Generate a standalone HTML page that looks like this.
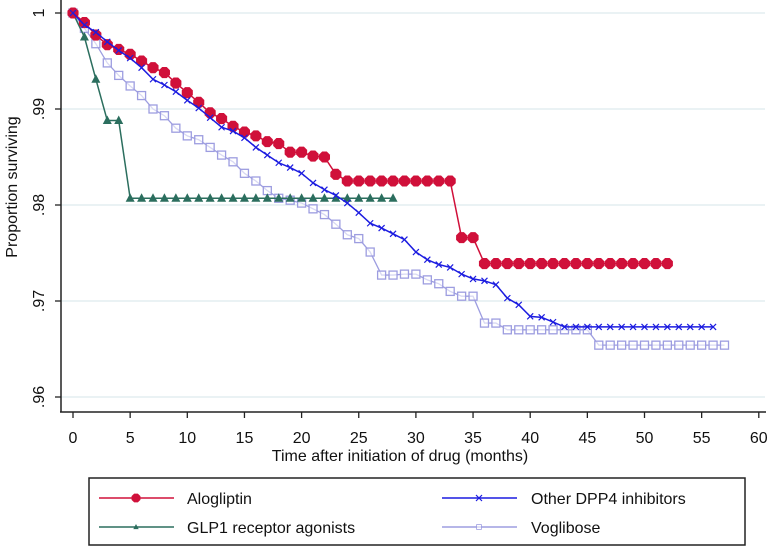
<!DOCTYPE html>
<html><head><meta charset="utf-8"><style>
body{margin:0;background:#fff;}
svg text{font-family:"Liberation Sans",sans-serif;fill:#111;}
</style></head><body>
<svg id="chart" width="776" height="547" xmlns="http://www.w3.org/2000/svg">
<g id="grid"></g><g id="axes"></g><g id="series"></g><g id="legend"></g>
</svg>
<script>
const xTicks=[0,5,10,15,20,25,30,35,40,45,50,55,60];
const yTicks=[1,0.99,0.98,0.97,0.96];
const yTickLabels=["1",".99",".98",".97",".96"];
const alogliptin=[1,.9990,.9977,.9967,.9962,.9957,.9950,.9943,.9938,.9927,.9917,.9907,.9896,.9890,.9882,.9876,.9872,.9866,.9864,.9855,.9855,.9851,.9850,.9832,.9825,.9825,.9825,.9825,.9825,.9825,.9825,.9825,.9825,.9825,.9766,.9766,.9739,.9739,.9739,.9739,.9739,.9739,.9739,.9739,.9739,.9739,.9739,.9739,.9739,.9739,.9739,.9739,.9739];
const glp1=[1,.9975,.9931,.9888,.9888,.9807,.9807,.9807,.9807,.9807,.9807,.9807,.9807,.9807,.9807,.9807,.9807,.9807,.9807,.9807,.9807,.9807,.9807,.9807,.9807,.9807,.9807,.9807,.9807];
const dpp4=[1,.99875,.9980,.9970,.9961,.9953,.9943,.9931,.9925,.9918,.9909,.9901,.9891,.9881,.9877,.9870,.9860,.9852,.9844,.9839,.9833,.9823,.9816,.9810,.9802,.9792,.9781,.9776,.9770,.9764,.9751,.9743,.9738,.9735,.9728,.9723,.9721,.9717,.9703,.9696,.9684,.9683,.9678,.9673,.9673,.9673,.9673,.9673,.9673,.9673,.9673,.9673,.9673,.9673,.9673,.9673,.9673];
const voglibose=[1,.9984,.9968,.9948,.9935,.9924,.9914,.9900,.9893,.9880,.9872,.9868,.9860,.9852,.9845,.9833,.9825,.9815,.9807,.9805,.9802,.9796,.9790,.9780,.9769,.9765,.9751,.9727,.9727,.9728,.9728,.9722,.9718,.9710,.9705,.9705,.9677,.9677,.9670,.9670,.9670,.9670,.9670,.9670,.9670,.9670,.9654,.9654,.9654,.9654,.9654,.9654,.9654,.9654,.9654,.9654,.9654,.9654];

const NS="http://www.w3.org/2000/svg";
const X=m=>73+m*11.43;
const Y=v=>13+(1-v)*9600;
function mk(tag,attrs,parent){const e=document.createElementNS(NS,tag);for(const k in attrs)e.setAttribute(k,attrs[k]);parent.appendChild(e);return e;}
const grid=document.getElementById('grid'),axes=document.getElementById('axes'),series=document.getElementById('series'),legend=document.getElementById('legend');

yTicks.forEach((v,i)=>{
 const g=mk('line',{x1:61,x2:765,y1:Y(v),y2:Y(v),stroke:'#e3edf0','stroke-width':1.5},grid);
 
 
 mk('line',{x1:55,x2:61,y1:Y(v),y2:Y(v),stroke:'#222','stroke-width':1.3},axes);
 const t=mk('text',{x:0,y:0,'font-size':16,'text-anchor':'middle',transform:`translate(44,${Y(v)}) rotate(-90)`},axes);
 t.textContent=yTickLabels[i];
 
 
});
xTicks.forEach(m=>{
 mk('line',{x1:X(m),x2:X(m),y1:412,y2:418,stroke:'#222','stroke-width':1.3},axes);
 const t=mk('text',{x:X(m),y:443,'font-size':16,'text-anchor':'middle'},axes);
 t.textContent=m;
 
 
});
const ya=mk('line',{x1:61,x2:61,y1:0,y2:412,stroke:'#222','stroke-width':1.5},axes);


const xa=mk('line',{x1:60,x2:766,y1:412,y2:412,stroke:'#222','stroke-width':1.5},axes);


const yt=mk('text',{x:0,y:0,'font-size':16,'text-anchor':'middle',transform:'translate(17,187) rotate(-90)'},axes);
yt.textContent='Proportion surviving';


const xt=mk('text',{x:400,y:461,'font-size':16,'text-anchor':'middle'},axes);
xt.textContent='Time after initiation of drug (months)';



function marker(type,x,y,color,parent){
 let e;
 if(type==='circle'){e=mk('polygon',{points:[0,1,2,3,4,5,6,7].map(k=>{const a=Math.PI/8+k*Math.PI/4;return (x+6*Math.cos(a))+','+(y+6*Math.sin(a));}).join(' '),fill:color},parent);}
 else if(type==='tri'){e=mk('polygon',{points:`${x},${y-5} ${x-4.5},${y+3.5} ${x+4.5},${y+3.5}`,fill:color},parent);}
 else if(type==='x'){e=mk('path',{d:`M${x-3},${y-3}L${x+3},${y+3}M${x-3},${y+3}L${x+3},${y-3}`,stroke:color,'stroke-width':1.2,fill:'none'},parent);}
 else {e=mk('rect',{x:x-4,y:y-4,width:8,height:8,fill:'#fff','fill-opacity':0.6,stroke:color,'stroke-width':1.3},parent);}
 return e;
}
function drawSeries(data,color,type,name,w){
 const g=mk('g',{},series);
 
 
 mk('polyline',{points:data.map((v,i)=>X(i)+','+Y(v)).join(' '),fill:'none',stroke:color,'stroke-width':w},g);
 data.forEach((v,i)=>{const m=marker(type,X(i),Y(v),color,g);
  
  });
}
drawSeries(voglibose,'#9d9de0','sq','voglibose-series',1.3);
drawSeries(glp1,'#2b6e5e','tri','glp1-series',1.5);
drawSeries(alogliptin,'#d0103a','circle','alogliptin-series',1.5);
drawSeries(dpp4,'#1c1ce0','x','dpp4-series',1.5);

const box=mk('rect',{x:89,y:478,width:656,height:67,fill:'#fff',stroke:'#222','stroke-width':1.5},legend);


const entries=[[99,498,'#d0103a','circle','Alogliptin',187],[99,527,'#2b6e5e','tri','GLP1 receptor agonists',187],[442,498,'#1c1ce0','x','Other DPP4 inhibitors',531],[442,527,'#9d9de0','sq','Voglibose',531]];
entries.forEach(e=>{
 const g=mk('g',{},legend);
 
 
 mk('line',{x1:e[0],x2:e[0]+75,y1:e[1],y2:e[1],stroke:e[2],'stroke-width':1.5},g);
 const m=marker(e[3],e[0]+37,e[1],e[2],g); if(e[3]==='circle'){m.setAttribute('transform',`translate(${e[0]+37},${e[1]}) scale(0.8) translate(${-(e[0]+37)},${-e[1]})`);}
 if(e[3]==='tri')m.setAttribute('transform',`translate(${e[0]+37},${e[1]}) scale(0.6) translate(${-(e[0]+37)},${-e[1]})`);
 if(e[3]==='sq')m.setAttribute('transform',`translate(${e[0]+37},${e[1]}) scale(0.6) translate(${-(e[0]+37)},${-e[1]})`);
 const t=mk('text',{x:e[5],y:e[1]+6,'font-size':16},g);
 t.textContent=e[4];
});
</script>
</body></html>
